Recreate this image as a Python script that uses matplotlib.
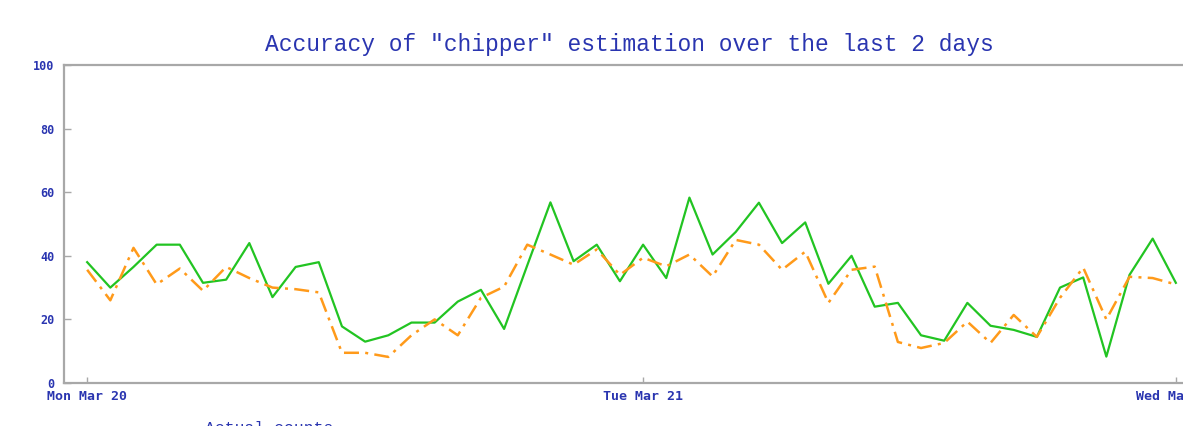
import matplotlib
matplotlib.use("Agg")
import matplotlib.pyplot as plt
import numpy as np

# hourly samples, Mon Mar 20 00:00 onwards
actual = [38, 30, 36.5, 43.5, 43.5, 31.5, 32.5, 44, 27, 36.5, 38, 17.8,
          13, 15, 19, 19, 25.6, 29.3, 17, 37, 56.8, 38.3, 43.5, 32,
          43.5, 33, 58.3, 40.4, 47.5, 56.7, 44, 50.5, 31.2, 40, 24, 25.2,
          15, 13.3, 25.2, 18, 16.7, 14.5, 30, 33.2, 8.3, 34, 45.4, 31.5]
estimated = [35.6, 26, 42.5, 31, 36, 29, 36.5, 33, 30, 29.5, 28.5, 9.5,
             9.5, 8.2, 15, 20, 15, 26.8, 30.3, 43.5, 40.4, 37.2, 42, 34,
             39.4, 36.7, 40.4, 33.5, 45, 43.5, 35.6, 41.3, 25.2, 35.6, 36.6, 12.9,
             11, 12.6, 19.3, 12.6, 21.4, 14.5, 26.8, 36.3, 20, 33.4, 33, 31]
day_labels = ["Mon Mar 20", "Tue Mar 21", "Wed Mar 22"]
day_pos = [0, 24, 47]
yticks = [0, 20, 40, 60, 80, 100]

blue = "#2a35b0"
grey = "#a8a8a8"
mono = "DejaVu Sans Mono"
thin = "Liberation Mono"

fig = plt.figure(figsize=(11.83, 4.26), dpi=100)
W, H = 1183.0, 426.0
ax = fig.add_axes([64 / W, 43 / H, (1199 - 64) / W, (383 - 65) / H])

hours = np.arange(len(actual))
ax.plot(hours, actual, color="#22c422", lw=1.6, label="Actual counts")
ax.plot(hours, estimated, color="#ff9a1a", lw=1.8, linestyle=(0, (6, 2.5, 1.2, 2.5)),
        label="Estimated counts")

ax.set_xlim(-1, 48)
ax.set_ylim(0, 100)
ax.set_yticks(yticks)
ax.set_yticklabels([str(v) for v in yticks])
ax.set_xticks(day_pos)
ax.set_xticklabels(day_labels)

for s in ax.spines.values():
    s.set_color(grey)
    s.set_linewidth(1.6)

ax.tick_params(axis="y", direction="in", length=5, width=1, color=grey, pad=7,
               labelsize=8.5, labelcolor=blue)
ax.tick_params(axis="x", direction="in", length=4, width=1, color=grey, pad=5,
               labelsize=9.5, labelcolor=blue)
for lab in ax.get_xticklabels() + ax.get_yticklabels():
    lab.set_family(mono)
    lab.set_fontweight("bold")

fig.text(629 / W, 1 - 45 / H, 'Accuracy of "chipper" estimation over the last 2 days',
         ha="center", va="center", color=blue, family=thin, fontsize=16.45)

# legend sits mostly below the picture edge
fig.legend(loc="center left", bbox_to_anchor=(129 / W, -14.5 / H), frameon=False,
           handlelength=4.3, handletextpad=0.35, borderpad=0, borderaxespad=0,
           prop={"family": thin, "size": 11.8}, labelcolor=blue)

fig.savefig("out.png", dpi=100, facecolor="white")
